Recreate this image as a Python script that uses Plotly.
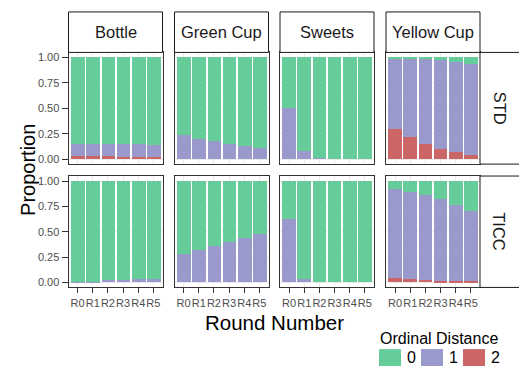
import plotly.graph_objects as go

# Data: proportion of responses at each ordinal distance, per object, condition and round
objects = ["Bottle", "Green Cup", "Sweets", "Yellow Cup"]
conditions = ["STD", "TICC"]
rounds = ["R0", "R1", "R2", "R3", "R4", "R5"]
distances = ["0", "1", "2"]
colors = ["#66CC99", "#9999CC", "#CC6666"]

# distance 2 (bottom of stack)
std_d2 = {
    "Bottle":     [0.03, 0.03, 0.03, 0.02, 0.02, 0.02],
    "Green Cup":  [0.0, 0.0, 0.0, 0.0, 0.0, 0.0],
    "Sweets":     [0.0, 0.0, 0.0, 0.0, 0.0, 0.0],
    "Yellow Cup": [0.295, 0.21, 0.14, 0.09, 0.062, 0.032],
}
# distance 1 (middle of stack)
std_d1 = {
    "Bottle":     [0.11, 0.11, 0.11, 0.12, 0.12, 0.11],
    "Green Cup":  [0.237, 0.198, 0.172, 0.14, 0.12, 0.10],
    "Sweets":     [0.503, 0.075, 0.007, 0.0, 0.0, 0.0],
    "Yellow Cup": [0.695, 0.767, 0.837, 0.88, 0.888, 0.898],
}
ticc_d2 = {
    "Bottle":     [0.0, 0.0, 0.0, 0.0, 0.0, 0.0],
    "Green Cup":  [0.0, 0.0, 0.0, 0.0, 0.0, 0.0],
    "Sweets":     [0.0, 0.0, 0.0, 0.0, 0.0, 0.0],
    "Yellow Cup": [0.042, 0.03, 0.02, 0.01, 0.01, 0.01],
}
ticc_d1 = {
    "Bottle":     [0.005, 0.005, 0.02, 0.02, 0.03, 0.03],
    "Green Cup":  [0.28, 0.32, 0.36, 0.40, 0.44, 0.476],
    "Sweets":     [0.63, 0.03, 0.0, 0.0, 0.0, 0.0],
    "Yellow Cup": [0.88, 0.866, 0.844, 0.81, 0.757, 0.692],
}
props = {"STD": (std_d1, std_d2), "TICC": (ticc_d1, ticc_d2)}

W, H = 519, 368
def fx(p):
    return p / W
def fy(p):
    return 1 - p / H

col_px = [(68.5, 162.5), (174.5, 268.5), (280.0, 374.0), (386.0, 480.0)]
row_px = [(51.7, 164.0), (176.0, 288.0)]
strip_top = 11.0

FONT = "Liberation Sans, Arial, sans-serif"
tick_font = dict(family=FONT, size=11, color="#4d4d4d")

fig = go.Figure()
layout = {}
xs = list(range(1, len(rounds) + 1))

for r, cond in enumerate(conditions):
    d1, d2 = props[cond]
    for c, obj in enumerate(objects):
        idx = r * 4 + c + 1
        sfx = "" if idx == 1 else str(idx)
        p1, p2 = d1[obj], d2[obj]
        p0 = [1 - a - b for a, b in zip(p1, p2)]
        for vals, col, name in ((p2, colors[2], distances[2]),
                                (p1, colors[1], distances[1]),
                                (p0, colors[0], distances[0])):
            fig.add_trace(go.Bar(
                x=xs, y=vals, width=0.9, marker=dict(color=col, line=dict(width=0)),
                name=name, showlegend=False,
                xaxis="x" + sfx, yaxis="y" + sfx,
            ))
        x0, x1 = col_px[c]
        y0, y1 = row_px[r]
        bottom = r == len(conditions) - 1
        left = c == 0
        layout["xaxis" + sfx] = dict(
            domain=[fx(x0), fx(x1)], anchor="y" + sfx, range=[0.4, 6.6],
            tickvals=xs, ticktext=rounds, showticklabels=bottom, tickangle=0,
            ticks="outside" if bottom else "", ticklen=5, tickcolor="#333333",
            tickfont=tick_font, showgrid=True, gridcolor="#ebebeb", gridwidth=0.6,
            showline=True, mirror=True, linecolor="#333333", linewidth=1,
            zeroline=False, fixedrange=True,
        )
        layout["yaxis" + sfx] = dict(
            domain=[fy(y1), fy(y0)], anchor="x" + sfx, range=[-0.05, 1.05],
            tickvals=[0, 0.25, 0.5, 0.75, 1.0],
            ticktext=["0.00", "0.25", "0.50", "0.75", "1.00"],
            showticklabels=left, ticks="outside" if left else "", ticklen=6,
            tickcolor="#333333", tickfont=tick_font,
            showgrid=True, gridcolor="#ebebeb", gridwidth=0.6,
            minor=dict(tickvals=[0.125, 0.375, 0.625, 0.875], showgrid=True,
                       gridcolor="#f2f2f2", gridwidth=0.4),
            showline=True, mirror=True, linecolor="#333333", linewidth=1,
            zeroline=False, fixedrange=True,
        )

shapes = []
annotations = []
# column strips
for c, obj in enumerate(objects):
    x0, x1 = col_px[c]
    shapes.append(dict(type="rect", xref="paper", yref="paper",
                       x0=fx(x0), x1=fx(x1), y0=fy(row_px[0][0]), y1=fy(strip_top),
                       line=dict(color="#1a1a1a", width=1), fillcolor="white", layer="above"))
    annotations.append(dict(text=obj, xref="paper", yref="paper",
                            x=fx((x0 + x1) / 2), y=fy((strip_top + row_px[0][0]) / 2),
                            showarrow=False, xanchor="center", yanchor="middle",
                            font=dict(family=FONT, size=16.5, color="#1a1a1a")))
# row strips
for r, cond in enumerate(conditions):
    y0, y1 = row_px[r]
    shapes.append(dict(type="rect", xref="paper", yref="paper",
                       x0=fx(col_px[-1][1]), x1=fx(W + 20), y0=fy(y1), y1=fy(y0),
                       line=dict(color="#1a1a1a", width=1), fillcolor="white", layer="above"))
    annotations.append(dict(text=cond, xref="paper", yref="paper",
                            x=fx(499.5), y=fy((y0 + y1) / 2), textangle=90,
                            showarrow=False, xanchor="center", yanchor="middle",
                            font=dict(family=FONT, size=16.5, color="#1a1a1a")))

# axis titles
annotations.append(dict(text="Proportion", xref="paper", yref="paper",
                        x=fx(28), y=fy((row_px[0][0] + row_px[1][1]) / 2), textangle=-90,
                        showarrow=False, xanchor="center", yanchor="middle",
                        font=dict(family=FONT, size=20, color="black")))
annotations.append(dict(text="Round Number", xref="paper", yref="paper",
                        x=fx((col_px[0][0] + col_px[-1][1]) / 2), y=fy(323),
                        showarrow=False, xanchor="center", yanchor="middle",
                        font=dict(family=FONT, size=20.5, color="black")))

# legend
annotations.append(dict(text="Ordinal Distance", xref="paper", yref="paper",
                        x=fx(378), y=fy(339), showarrow=False,
                        xanchor="left", yanchor="middle",
                        font=dict(family=FONT, size=16, color="black")))
key_x = [379, 421, 463]
for k, (lab, col) in enumerate(zip(distances, colors)):
    kx = key_x[k]
    shapes.append(dict(type="rect", xref="paper", yref="paper",
                       x0=fx(kx), x1=fx(kx + 22), y0=fy(367), y1=fy(350),
                       line=dict(width=0), fillcolor=col))
    annotations.append(dict(text=lab, xref="paper", yref="paper",
                            x=fx(kx + 26), y=fy(358.5), showarrow=False,
                            xanchor="left", yanchor="middle",
                            font=dict(family=FONT, size=16, color="black")))

fig.update_layout(
    **layout,
    width=W, height=H, margin=dict(l=0, r=0, t=0, b=0),
    paper_bgcolor="white", plot_bgcolor="white",
    barmode="stack", bargap=0, showlegend=False,
    shapes=shapes, annotations=annotations,
)

fig.write_html("out.html")
